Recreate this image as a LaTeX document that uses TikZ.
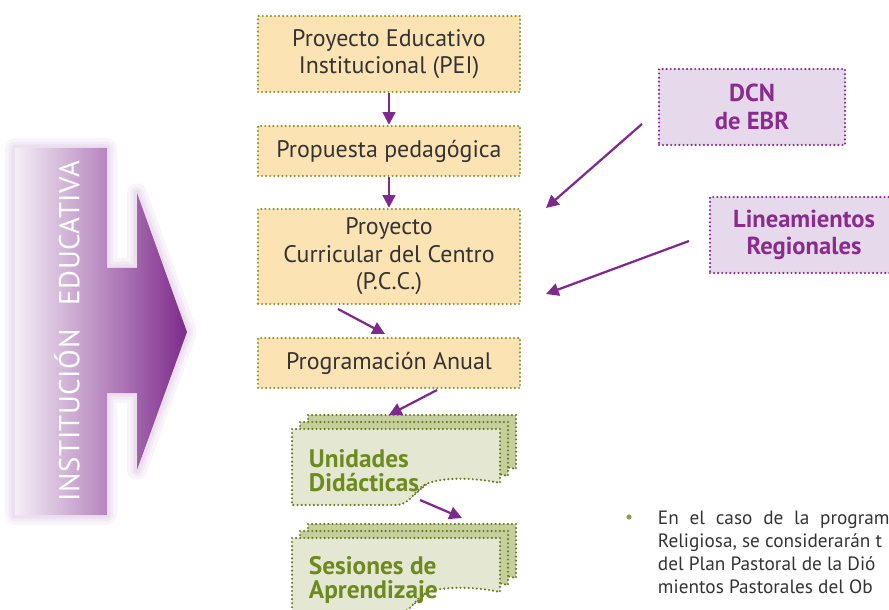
\documentclass[tikz,border=0pt]{standalone}
\usepackage{fontspec}
\setmainfont{PT Sans}
\usetikzlibrary{positioning}
\usetikzlibrary{arrows.meta}

\definecolor{boxorange}{HTML}{FCE3B4}
\definecolor{dotgreen}{HTML}{8A9A2E}
\definecolor{arrowpurple}{HTML}{7E2A8C}
\definecolor{lilacfill}{HTML}{E6D9EB}
\definecolor{textpurple}{HTML}{8A2B8E}
\definecolor{sheetfront}{HTML}{E4E8D2}
\definecolor{sheetback}{HTML}{C4CF9C}
\definecolor{textolive}{HTML}{6D8A1F}
\definecolor{textgray}{HTML}{333333}

\tikzset{
  dotline/.style = {line width = 1.7pt, line cap = round, dash pattern = on 0pt off 2.9pt},
  stepbox/.style = {dotline, draw = dotgreen, fill = boxorange, minimum width = 6.55cm,
                    align = center, text = textgray, font = \fontsize{17}{19.5}\selectfont},
  sourcebox/.style = {dotline, draw = textpurple, fill = lilacfill, align = center,
                      text = textpurple, font = \bfseries\fontsize{17.5}{19.5}\selectfont},
  flow/.style = {arrowpurple, line width = 1.6pt, -{Triangle[length = 9pt, width = 9pt]}},
  sheetlabel/.style = {anchor = west, align = left, text = textolive,
                       font = \bfseries\fontsize{18}{17}\selectfont},
  notetext/.style = {anchor = base west, text = textgray, font = \fontsize{13.7}{13.7}\selectfont}
}

% one wavy sheet, top left corner at the scope origin
\newcommand{\wavysheet}[1]{
  \draw [dotline, draw = dotgreen!80!black, fill = #1]
    (0, 0) -- (208, 0) -- (208, 54)
    .. controls (185, 49) and (150, 47) .. (132, 56)
    .. controls (122, 62) and (118, 76) .. (104, 76)
    -- (0, 76) -- cycle;
}

\begin{document}
\begin{tikzpicture}[x = 0.025cm, y = -0.025cm]
  \useasboundingbox (0, 0) rectangle (889, 610);
  \clip (0, 0) rectangle (889, 610);

  % big arrow of the institution
  \def\schoolarrow{(15, 148) -- (107, 148) -- (107, 268) -- (137, 268) -- (137, 193)
    -- (187, 332) -- (137, 470) -- (137, 393) -- (107, 393) -- (107, 515) -- (15, 515) -- cycle}
  \foreach \w in {14, 9, 5}
    \draw [arrowpurple, opacity = 0.05, line width = \w pt, line join = round] \schoolarrow;
  \shade [left color = arrowpurple!8, right color = arrowpurple] \schoolarrow;
  \node [rotate = 90, text = white, font = \fontsize{20.5}{20.5}\selectfont\addfontfeatures{LetterSpace = 2}]
    (school) at (67, 331) {INSTITUCIÓN\hspace{0.55em} EDUCATIVA};

  % main chain
  \node [stepbox, minimum height = 1.9cm] (pei) at (389, 54) {Proyecto Educativo\\Institucional (PEI)};
  \node [stepbox, minimum height = 1.25cm] (propuesta) at (389, 151) {Propuesta pedagógica};
  \node [stepbox, minimum height = 2.375cm] (pcc) at (389, 256.5) {Proyecto\\Curricular del Centro\\(P.C.C.)};
  \node [stepbox, minimum height = 1.25cm] (anual) at (389, 363) {Programación Anual};

  % sources on the right
  \node [sourcebox, minimum width = 4.65cm, minimum height = 1.9cm] (dcn) at (752, 107) {DCN\\de EBR};
  \node [sourcebox, minimum width = 4.9cm, minimum height = 1.9cm, text width = 4.3cm] (lineamientos) at (808, 235) {\hspace*{-0.2cm}Lineamientos\\\hspace*{-0.2cm}Regionales};

  % stacked sheets
  \foreach \dx/\dy/\col in {16/-14/sheetback, 8/-7/sheetback, 0/0/sheetfront}
    \begin{scope}[shift = {(292 + \dx, 429 + \dy)}]
      \wavysheet{\col}
    \end{scope};
  \node [sheetlabel] (unidades) at (304, 471) {Unidades\\Didácticas};

  \foreach \dx/\dy/\col in {16/-14/sheetback, 8/-7/sheetback, 0/0/sheetfront}
    \begin{scope}[shift = {(292 + \dx, 538 + \dy)}]
      \wavysheet{\col}
    \end{scope};
  \node [sheetlabel] (sesiones) at (304, 580) {Sesiones de\\Aprendizaje};

  % connectors
  \coordinate (dcnfrom) at (642, 124);
  \coordinate (dcnto) at (546, 208);
  \coordinate (linfrom) at (689, 241);
  \coordinate (linto) at (546, 294);
  \coordinate (pccfrom) at (338, 309);
  \coordinate (anualto) at (385, 334);
  \coordinate (anualfrom) at (437, 390);
  \coordinate (unidto) at (389, 415);
  \coordinate (unidfrom) at (420, 500);
  \coordinate (sesto) at (462, 518);

  \draw [flow] (pei.south) -- (propuesta.north);
  \draw [flow] (propuesta.south) -- (pcc.north);
  \draw [flow] (dcnfrom) -- (dcnto);
  \draw [flow] (linfrom) -- (linto);
  \draw [flow] (pccfrom) -- (anualto);
  \draw [flow] (anualfrom) -- (unidto);
  \draw [flow] (unidfrom) -- (sesto);

  % note at the bottom right
  \fill [textolive!80] (629, 517) circle (2.6);
  \node [notetext] (line1) at (653, 524) {\spaceskip = 0.56em En el caso de la program};
  \node [notetext] (line2) at (653, 547) {Religiosa, se considerarán t};
  \node [notetext] (line3) at (653, 570) {del Plan Pastoral de la Dió};
  \node [notetext] (line4) at (653, 593) {mientos Pastorales del Ob};
\end{tikzpicture}
\end{document}
